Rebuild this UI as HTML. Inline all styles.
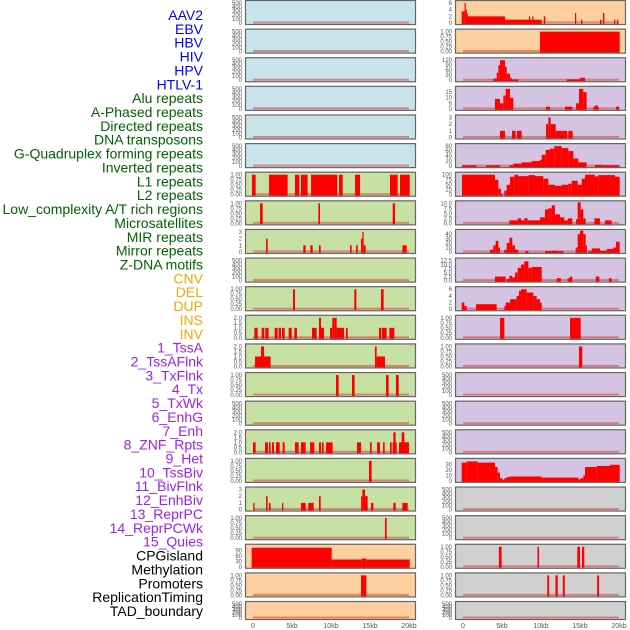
<!DOCTYPE html>
<html><head><meta charset="utf-8">
<style>
html,body{margin:0;padding:0;background:#fff;}
svg{display:block;font-family:"Liberation Sans",sans-serif;}
</style></head>
<body>
<svg id="chart" width="630" height="630" viewBox="0 0 630 630"></svg>
<script>
// ---- track names ----
const trackLabels = ["AAV2","EBV","HBV","HIV","HPV","HTLV-1","Alu repeats","A-Phased repeats","Directed repeats","DNA transposons","G-Quadruplex forming repeats","Inverted repeats","L1 repeats","L2 repeats","Low_complexity A/T rich regions","Microsatellites","MIR repeats","Mirror repeats","Z-DNA motifs","CNV","DEL","DUP","INS","INV","1_TssA","2_TssAFlnk","3_TxFlnk","4_Tx","5_TxWk","6_EnhG","7_Enh","8_ZNF_Rpts","9_Het","10_TssBiv","11_BivFlnk","12_EnhBiv","13_ReprPC","14_ReprPCWk","15_Quies","CPGisland","Methylation","Promoters","ReplicationTiming","TAD_boundary"];
const labelColors = ["#0000ff","#0000ff","#0000ff","#0000ff","#0000ff","#0000ff","#006400","#006400","#006400","#006400","#006400","#006400","#006400","#006400","#006400","#006400","#006400","#006400","#006400","#ffa500","#ffa500","#ffa500","#ffa500","#ffa500","#a020f0","#a020f0","#a020f0","#a020f0","#a020f0","#a020f0","#a020f0","#a020f0","#a020f0","#a020f0","#a020f0","#a020f0","#a020f0","#a020f0","#a020f0","#000000","#000000","#000000","#000000","#000000"];
const xTickValues = [0,5,10,15,20];
const xTickLabels = ["0","5kb","10kb","15kb","20kb"];

// ---- segment data [startKb, endKb, value] ----
const empty = [];
const alu = [[-0.13,0.34,1],[2.05,4.44,1],[5.38,5.94,1],[6.15,7.0,1],[7.44,10.81,1],[11.03,11.5,1],[13.08,13.72,1],[17.56,18.55,1],[18.85,20.09,1]];
const aphased = [[0.9,1.24,1],[8.38,8.59,1],[17.91,18.21,1]];
const directed = [[1.67,1.88,2],[6.45,6.75,1],[7.35,7.65,1],[8.46,8.68,1],[12.44,12.65,1],[13.21,13.42,1],[13.85,14.02,2],[14.02,14.19,3],[14.19,14.44,1],[19.15,19.7,1]];
const gquad = [[5.13,5.38,1],[12.99,13.25,1],[16.41,16.75,1]];
const inverted = [[0.17,0.6,1],[1.11,1.45,1],[1.58,2.0,1],[2.78,3.16,1],[3.29,3.59,1],[3.72,4.06,1],[4.57,4.96,1],[5.3,5.64,1],[7.56,8.16,1],[8.46,8.72,2],[8.72,9.1,1],[9.87,10.17,1],[10.17,10.43,2],[10.43,10.73,2],[10.73,11.67,1],[11.92,12.14,1],[16.15,16.41,1],[16.5,17.14,1],[17.48,18.12,1]];
const l1 = [[0.26,1.03,1],[1.03,1.41,2],[1.41,2.26,1],[15.64,15.85,2],[15.85,16.92,1]];
const l2 = [[10.64,10.98,1],[12.69,13.03,1],[17.05,17.39,1],[18.33,18.68,1]];
const micro = [[0.0,0.34,1],[1.54,1.92,1],[2.05,2.26,1],[2.44,2.69,1],[2.95,3.42,1],[3.8,4.06,1],[5.38,5.85,1],[6.15,6.75,1],[7.31,7.86,1],[8.46,8.72,1],[8.85,9.06,1],[9.36,10.21,1],[13.33,13.85,1],[15.0,15.21,1],[15.9,16.28,1],[16.67,16.88,1],[17.56,17.78,1],[17.91,18.42,1],[17.99,18.29,2],[18.72,20.0,1],[19.06,19.4,2]];
const mir = [[14.87,15.21,1]];
const mirror = [[0.04,0.21,1],[1.67,1.88,2],[2.05,2.26,1],[3.72,3.89,1],[6.15,6.75,1],[7.09,7.78,1],[8.46,8.68,2],[13.85,14.02,2],[14.02,14.36,3],[14.36,14.7,2],[15.13,15.43,1],[17.99,18.29,1],[19.15,19.83,1]];
const zdna = [[16.92,17.14,1]];
const cnv = [[-0.17,10.09,105],[10.09,13.93,40],[13.93,14.57,45],[14.57,20.09,40]];
const del = [[13.85,14.53,1]];
const ins = [[-0.17,0.2,3.5],[0.2,0.34,6],[0.34,0.45,4],[0.45,0.55,3],[0.55,5.38,2],[5.38,10.09,1],[8.46,8.6,2],[8.88,9.02,2],[10.35,10.55,2],[14.36,14.5,3],[15.13,15.3,1],[17.56,17.75,1],[17.95,18.12,3],[19.36,19.5,1],[19.75,19.9,1]];
const inv = [[9.87,20.09,1]];
const tssA = [[3.89,4.32,10],[4.32,4.53,45],[4.53,4.74,90],[4.74,5.38,120],[5.38,5.6,80],[5.6,6.03,40],[6.03,6.24,15],[6.24,7.09,5],[13.29,15.21,5],[15.0,15.64,15]];
const tssAFlnk = [[4.1,4.74,9],[4.74,5.17,5],[5.17,5.47,12],[5.47,6.03,18],[6.03,6.45,10],[10.64,11.15,2],[13.08,14.02,2],[14.49,14.87,5],[14.87,15.43,18],[15.43,15.85,15],[16.71,16.92,2],[16.92,17.26,3],[17.26,17.39,2],[19.62,20.04,2]];
const txFlnk = [[4.74,5.38,1],[6.28,6.75,1],[6.92,7.52,1],[10.64,10.94,2],[10.94,11.24,3],[11.24,11.88,2],[11.88,13.38,1],[13.5,14.06,1]];
const tx = [[-0.13,1.75,3],[2.95,4.74,3],[5.94,6.45,3],[6.45,7.52,10],[7.52,8.8,15],[8.8,9.87,20],[9.87,10.09,25],[10.09,10.6,45],[10.6,11.15,65],[11.15,11.71,70],[11.71,12.65,80],[12.65,13.5,72],[13.5,14.15,60],[14.15,14.79,30],[14.79,15.85,15],[16.92,17.78,5],[17.78,20.09,3]];
const txWk = [[-0.13,4.1,100],[4.1,4.53,75],[4.53,4.87,30],[4.87,5.04,5],[5.3,5.6,20],[5.6,6.03,50],[6.03,6.58,90],[6.58,7.09,100],[7.09,8.38,93],[8.38,9.23,98],[9.23,10.3,93],[10.3,10.94,80],[10.94,11.79,50],[11.79,12.65,45],[12.65,13.5,50],[13.5,13.93,55],[13.93,14.7,70],[14.7,15.21,50],[15.21,15.64,80],[15.64,16.92,100],[16.92,17.35,92],[17.35,19.49,98],[19.49,20.09,90]];
const enhG = [[5.94,7.01,1.5],[7.01,7.44,2.5],[7.44,7.86,1.5],[7.86,8.29,2.5],[8.29,9.87,1.5],[9.87,10.51,3],[10.51,10.94,7],[10.94,11.37,7.5],[11.37,11.79,9],[11.79,12.44,4.5],[12.44,12.99,3],[12.99,13.42,1.5],[13.42,14.02,2.5],[14.49,14.7,2],[14.7,15.09,10.5],[15.09,15.43,7],[15.43,15.73,2.5],[16.84,17.56,2.5],[18.21,19.06,1.5]];
const enh = [[3.46,3.89,5],[3.89,4.19,15],[4.19,4.53,25],[4.53,4.74,10],[5.3,5.6,5],[5.6,5.94,20],[5.94,6.32,32],[6.32,6.67,15],[6.67,7.09,5],[7.95,8.38,2],[10.51,11.37,2],[11.37,12.22,3],[12.22,12.86,2],[14.44,14.7,10],[14.7,15.0,40],[15.0,15.43,48],[15.43,15.73,40],[15.73,15.85,15],[16.07,16.5,2],[16.5,17.56,8],[17.56,18.42,3],[18.42,19.27,7],[19.27,19.62,10],[19.62,20.09,23]];
const znf = [[4.1,5.47,2.5],[5.6,5.94,1],[5.94,6.32,3],[6.32,6.67,2],[6.67,7.01,5],[7.01,7.44,8],[7.44,7.86,10],[7.86,8.38,12],[8.38,8.8,8],[8.8,10.09,8.5],[12.01,12.56,1.5],[13.42,13.72,1.5],[13.72,14.02,2.5],[17.01,17.48,2.5],[18.72,19.06,1.5]];
const het = [[-0.17,0.17,2],[0.17,0.47,1],[1.67,4.32,1.5],[5.3,5.47,1],[5.47,6.03,2],[6.03,6.88,3],[6.88,7.18,4],[7.18,7.44,5.5],[7.44,8.16,6],[8.16,9.02,5],[9.02,9.44,4],[9.44,9.87,3],[9.87,10.09,2]];
const tssBiv = [[4.74,5.3,1],[13.72,15.09,1]];
const bivFlnk = [[14.87,15.3,1]];
const quies = [[-0.17,0.47,33],[0.47,1.88,35],[1.88,4.1,33],[4.1,4.44,25],[4.44,4.74,15],[4.74,5.04,5],[5.04,5.3,2],[5.3,5.6,5],[5.6,6.03,7],[6.03,10.09,8],[10.09,14.79,6],[14.79,15.09,3],[15.09,15.43,5],[15.43,15.64,10],[15.64,17.14,25],[17.14,18.85,27],[18.85,20.09,29]];
const methylation = [[4.6,4.95,1],[9.55,9.75,1],[14.65,15.0,1],[15.25,15.55,1]];
const promoters = [[10.8,11.05,1],[11.85,12.15,1],[12.8,13.05,1],[17.2,17.45,1]];

// ---- y axis ticks per track ----
const tk500 = ["0","100","200","300","400","500"];
const tk1 = ["0.00","0.25","0.50","0.75","1.00"];
const trackData = [empty,empty,empty,empty,empty,empty,alu,aphased,directed,empty,gquad,inverted,l1,l2,empty,micro,mir,mirror,zdna,cnv,del,empty,ins,inv,tssA,tssAFlnk,txFlnk,tx,txWk,enhG,enh,znf,het,tssBiv,bivFlnk,empty,empty,empty,quies,empty,empty,methylation,promoters,empty];
const trackTicks = [tk500,tk500,tk500,tk500,tk500,tk500,tk1,tk1,["0","1","2","3"],tk500,tk1,["0.0","0.5","1.0","1.5","2.0"],["0.0","0.5","1.0","1.5","2.0"],tk1,tk500,["0.0","0.5","1.0","1.5","2.0"],tk1,["0","1","2","3"],tk1,["0","30","60","90"],tk1,tk500,["0","2","4","6"],tk1,["0","30","60","90","120"],["0","5","10","15"],["0","1","2","3"],["0","20","40","60","80"],["0","25","50","75","100"],["0.0","2.5","5.0","7.5","10.0"],["0","10","20","30","40"],["0.0","2.5","5.0","7.5","10.0","12.5"],["0","2","4","6"],tk1,tk1,tk500,tk500,tk500,["0","10","20","30"],tk500,tk500,tk1,tk1,tk500];
const trackMax = [500,500,500,500,500,500,1,1,3,500,1,2,2,1,500,2,1,3,1,110,1,500,6,1,120,18,3,80,100,10,45,12.5,6,1,1,500,500,500,36,500,500,1,1,500];
const trackBg = ["#c8e3ea","#c8e3ea","#c8e3ea","#c8e3ea","#c8e3ea","#c8e3ea","#c7e0a4","#c7e0a4","#c7e0a4","#c7e0a4","#c7e0a4","#c7e0a4","#c7e0a4","#c7e0a4","#c7e0a4","#c7e0a4","#c7e0a4","#c7e0a4","#c7e0a4","#fecf9f","#fecf9f","#fecf9f","#fecf9f","#fecf9f","#d5c4e1","#d5c4e1","#d5c4e1","#d5c4e1","#d5c4e1","#d5c4e1","#d5c4e1","#d5c4e1","#d5c4e1","#d5c4e1","#d5c4e1","#d5c4e1","#d5c4e1","#d5c4e1","#d5c4e1","#d0d0d0","#d0d0d0","#d0d0d0","#d0d0d0","#d0d0d0"];

const NS = "http://www.w3.org/2000/svg";
const svg = document.getElementById("chart");
function mk(tag, attrs, parent){
  const e = document.createElementNS(NS, tag);
  for (const k in attrs) e.setAttribute(k, attrs[k]);
  (parent||svg).appendChild(e);
  return e;
}
const colX = [245, 455], panelW = 171, pitch = 28.62;
function xScale(col, kb){ return colX[col] + 8 + kb * 7.8; }
function panelGeom(i){
  const col = i < 22 ? 0 : 1, row = i % 22;
  const top = row * pitch;
  const h = row === 21 ? 19 : 25;
  return {col, top, h};
}
function yScale(g, v, max){ return g.top + g.h - 2 - (v / max) * (g.h - 5); }

// labels
trackLabels.forEach((name, i) => {
  const t = mk("text", {x: 203, y: 15 + i * 13.86 + 5, "text-anchor": "end", "font-size": 14, fill: labelColors[i]});
  t.textContent = name;
  
  
});

// panels
trackData.forEach((segs, i) => {
  const g = panelGeom(i);
  const max = trackMax[i];
  const grp = mk("g", {});
  
  
  const cp = mk("clipPath", {id: "cp" + i}, grp);
  mk("rect", {x: colX[g.col], y: g.top, width: panelW, height: g.h}, cp);
  const bg = mk("rect", {x: colX[g.col], y: g.top, width: panelW, height: g.h, fill: trackBg[i]}, grp);
  
  
  const inner = mk("g", {"clip-path": "url(#cp" + i + ")"}, grp);
  const y0 = yScale(g, 0, max);
  const bl = mk("rect", {x: xScale(g.col, 0), y: y0 - 1.5, width: xScale(g.col, 20) - xScale(g.col, 0), height: 2, fill: "rgba(215,60,60,0.55)"}, inner);
  
  
  segs.forEach(s => {
    const x1 = xScale(g.col, s[0]), x2 = xScale(g.col, s[1]);
    const yt = Math.max(g.top, yScale(g, s[2], max));
    const r = mk("rect", {x: x1, y: yt, width: Math.max(1.2, x2 - x1), height: y0 + 1 - yt, fill: "#ff0000"}, inner);
    
    
  });
  mk("rect", {x: colX[g.col] + 0.5, y: g.top + 0.5, width: panelW - 1, height: g.h - 1, fill: "none", stroke: "#666", "stroke-width": 1.2}, grp);
  const ticks = trackTicks[i];
  const step = max === 500 ? 100 : parseFloat(ticks[1]);
  ticks.forEach((lab, j) => {
    const v = j * step;
    const t = mk("text", {x: colX[g.col] - 3, y: yScale(g, v, max) + 2, "text-anchor": "end", "font-size": 6, fill: "#555"}, grp);
    t.textContent = lab;
    
    
  });
});

// x-axis ticks
[0, 1].forEach(col => {
  xTickValues.forEach((v, j) => {
    const t = mk("text", {x: xScale(col, v), y: 628, "text-anchor": "middle", "font-size": 7, fill: "#555"});
    t.textContent = xTickLabels[j];
    
    
  });
});
</script>
</body></html>
